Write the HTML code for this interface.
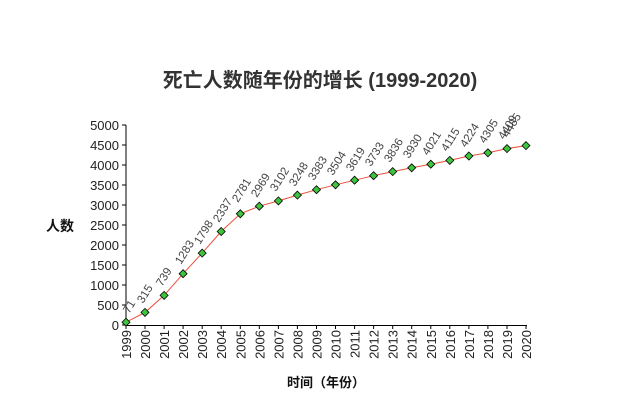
<!DOCTYPE html>
<html><head><meta charset="utf-8"><style>
html,body{margin:0;padding:0;background:#fff;}
svg{display:block;font-family:"Liberation Sans","Noto Sans CJK SC",sans-serif;}
</style></head><body>
<svg width="623" height="415" viewBox="0 0 623 415" xmlns="http://www.w3.org/2000/svg">
<text x="320" y="87" text-anchor="middle" font-size="20" font-weight="bold" fill="#333">死亡人数随年份的增长 (1999-2020)</text>
<text x="60" y="231" text-anchor="middle" font-size="14" font-weight="bold" fill="#111">人数</text>
<text x="326" y="387" text-anchor="middle" font-size="13" font-weight="bold" fill="#111">时间（年份）</text>
<g stroke="#000" stroke-width="1">
<line x1="126" y1="125" x2="126" y2="325.5"/>
<line x1="126" y1="325.5" x2="527" y2="325.5"/>
<line x1="122" y1="125" x2="126" y2="125"/><line x1="122" y1="145" x2="126" y2="145"/>
<line x1="122" y1="165" x2="126" y2="165"/><line x1="122" y1="185" x2="126" y2="185"/>
<line x1="122" y1="205" x2="126" y2="205"/><line x1="122" y1="225" x2="126" y2="225"/>
<line x1="122" y1="245" x2="126" y2="245"/><line x1="122" y1="265" x2="126" y2="265"/>
<line x1="122" y1="285" x2="126" y2="285"/><line x1="122" y1="305" x2="126" y2="305"/>
<line x1="122" y1="325" x2="126" y2="325"/>
</g>
<g stroke="#000" stroke-width="1">
<path d="M126 325v4M145 325v4M164.1 325v4M183.1 325v4M202.2 325v4M221.2 325v4M240.3 325v4M259.3 325v4M278.4 325v4M297.4 325v4M316.5 325v4M335.5 325v4M354.6 325v4M373.6 325v4M392.7 325v4M411.7 325v4M430.8 325v4M449.8 325v4M468.9 325v4M487.9 325v4M507 325v4M526 325v4"/>
</g>
<g font-size="13" fill="#222" text-anchor="end">
<text x="119" y="130">5000</text><text x="119" y="150">4500</text><text x="119" y="170">4000</text>
<text x="119" y="190">3500</text><text x="119" y="210">3000</text><text x="119" y="230">2500</text>
<text x="119" y="250">2000</text><text x="119" y="270">1500</text><text x="119" y="290">1000</text>
<text x="119" y="310">500</text><text x="119" y="330">0</text>
</g>
<g font-size="13" fill="#222" text-anchor="end">
<text transform="translate(131,330) rotate(-90)">1999</text>
<text transform="translate(150,330) rotate(-90)">2000</text>
<text transform="translate(169.1,330) rotate(-90)">2001</text>
<text transform="translate(188.1,330) rotate(-90)">2002</text>
<text transform="translate(207.2,330) rotate(-90)">2003</text>
<text transform="translate(226.2,330) rotate(-90)">2004</text>
<text transform="translate(245.3,330) rotate(-90)">2005</text>
<text transform="translate(264.3,330) rotate(-90)">2006</text>
<text transform="translate(283.4,330) rotate(-90)">2007</text>
<text transform="translate(302.4,330) rotate(-90)">2008</text>
<text transform="translate(321.5,330) rotate(-90)">2009</text>
<text transform="translate(340.5,330) rotate(-90)">2010</text>
<text transform="translate(359.6,330) rotate(-90)">2011</text>
<text transform="translate(378.6,330) rotate(-90)">2012</text>
<text transform="translate(397.7,330) rotate(-90)">2013</text>
<text transform="translate(416.7,330) rotate(-90)">2014</text>
<text transform="translate(435.8,330) rotate(-90)">2015</text>
<text transform="translate(454.8,330) rotate(-90)">2016</text>
<text transform="translate(473.9,330) rotate(-90)">2017</text>
<text transform="translate(492.9,330) rotate(-90)">2018</text>
<text transform="translate(512,330) rotate(-90)">2019</text>
<text transform="translate(531,330) rotate(-90)">2020</text>
</g>
<polyline fill="none" stroke="#e8503a" stroke-width="1" points="126,322.2 145,312.4 164.1,295.4 183.1,273.7 202.2,253.1 221.2,231.5 240.3,213.8 259.3,206.2 278.4,200.9 297.4,195.1 316.5,189.7 335.5,184.8 354.6,180.2 373.6,175.7 392.7,171.6 411.7,167.8 430.8,164.2 449.8,160.4 468.9,156 487.9,152.8 507,148.6 526,145.6"/>
<g fill="#3ec43e" stroke="#000" stroke-width="0.8">
<path d="M126 318.2l4 4-4 4-4-4z"/><path d="M145 308.4l4 4-4 4-4-4z"/><path d="M164.1 291.4l4 4-4 4-4-4z"/>
<path d="M183.1 269.7l4 4-4 4-4-4z"/><path d="M202.2 249.1l4 4-4 4-4-4z"/><path d="M221.2 227.5l4 4-4 4-4-4z"/>
<path d="M240.3 209.8l4 4-4 4-4-4z"/><path d="M259.3 202.2l4 4-4 4-4-4z"/><path d="M278.4 196.9l4 4-4 4-4-4z"/>
<path d="M297.4 191.1l4 4-4 4-4-4z"/><path d="M316.5 185.7l4 4-4 4-4-4z"/><path d="M335.5 180.8l4 4-4 4-4-4z"/>
<path d="M354.6 176.2l4 4-4 4-4-4z"/><path d="M373.6 171.7l4 4-4 4-4-4z"/><path d="M392.7 167.6l4 4-4 4-4-4z"/>
<path d="M411.7 163.8l4 4-4 4-4-4z"/><path d="M430.8 160.2l4 4-4 4-4-4z"/><path d="M449.8 156.4l4 4-4 4-4-4z"/>
<path d="M468.9 152l4 4-4 4-4-4z"/><path d="M487.9 148.8l4 4-4 4-4-4z"/><path d="M507 144.6l4 4-4 4-4-4z"/>
<path d="M526 141.6l4 4-4 4-4-4z"/>
</g>
<g font-size="11.5" fill="#444">
<text transform="translate(129,314) rotate(-58)">71</text>
<text transform="translate(143,304) rotate(-58)">315</text>
<text transform="translate(162,287) rotate(-58)">739</text>
<text transform="translate(181,265) rotate(-58)">1283</text>
<text transform="translate(200,245) rotate(-58)">1798</text>
<text transform="translate(219,223) rotate(-58)">2337</text>
<text transform="translate(238,203) rotate(-58)">2781</text>
<text transform="translate(257,198) rotate(-58)">2969</text>
<text transform="translate(276,192) rotate(-58)">3102</text>
<text transform="translate(295,187) rotate(-58)">3248</text>
<text transform="translate(314,181) rotate(-58)">3383</text>
<text transform="translate(333,176) rotate(-58)">3504</text>
<text transform="translate(352,172) rotate(-58)">3619</text>
<text transform="translate(371,167) rotate(-58)">3733</text>
<text transform="translate(390,163) rotate(-58)">3836</text>
<text transform="translate(409,159) rotate(-58)">3930</text>
<text transform="translate(428,156) rotate(-58)">4021</text>
<text transform="translate(447,152) rotate(-58)">4115</text>
<text transform="translate(466,148) rotate(-58)">4224</text>
<text transform="translate(485,144) rotate(-58)">4305</text>
<text transform="translate(504,140) rotate(-58)">4409</text>
<text transform="translate(508,138) rotate(-58)">4485</text>
</g>
</svg>
</body></html>
